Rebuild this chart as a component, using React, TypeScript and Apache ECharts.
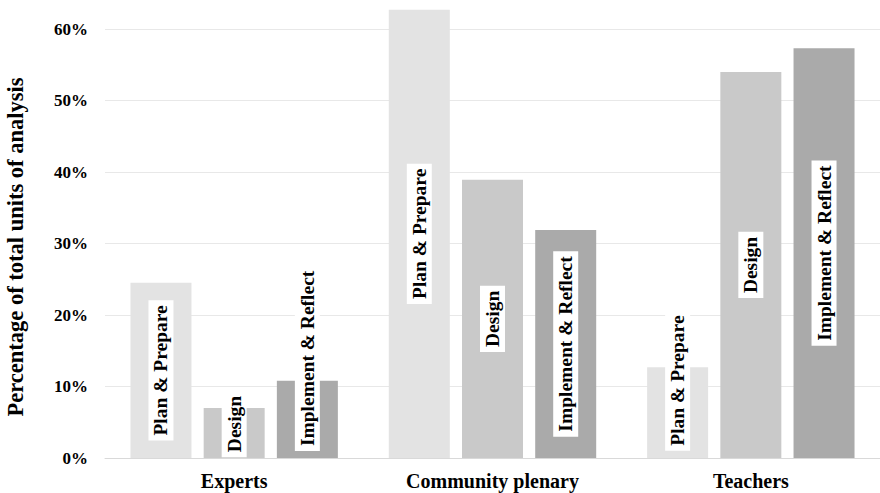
import React, { useEffect, useRef } from "react";
import * as echarts from "echarts";

const categories = ["Experts", "Community plenary", "Teachers"];
const seriesNames = ["Plan & Prepare", "Design", "Implement & Reflect"];
const planPrepare = [24.5, 62.7, 12.7];
const design = [7.0, 38.9, 54.0];
const implementReflect = [10.8, 31.9, 57.3];
const yTicks = [0, 10, 20, 30, 40, 50, 60];
const yAxisTitle = "Percentage of total units of analysis";

const FONT = "'Liberation Serif', 'Times New Roman', serif";

export default function App() {
  const ref = useRef<HTMLDivElement>(null);
  useEffect(() => {
    if (!ref.current) return;
    const chart = echarts.init(ref.current, undefined, { renderer: "svg" });
    const colors = ["#e3e3e3", "#c9c9c9", "#aaaaaa"];
    const values = [planPrepare, design, implementReflect];
    // per-item label shifts (upwards) for labels longer than their bar
    const shifts: number[][] = [
      [0, 0, 32],
      [9, 0, 0],
      [61, 0, 0],
    ];
    const series = seriesNames.map((name, si) => ({
      name,
      type: "bar",
      barWidth: 61,
      barGap: "20%",
      clip: false,
      itemStyle: { color: colors[si] },
      data: values[si].map((v, ci) => ({
        value: v,
        label: { offset: [shifts[si][ci], 0] },
      })),
      label: {
        show: true,
        position: "inside",
        rotate: 90,
        formatter: "{a}",
        fontFamily: FONT,
        fontWeight: "bold",
        fontSize: 19.5,
        color: "#000",
        backgroundColor: "#fff",
        padding: [3, 5, 2, 5],
      },
    }));
    chart.setOption({
      animation: false,
      grid: { left: 105, width: 777, top: 29, height: 429 },
      xAxis: {
        type: "category",
        data: categories,
        axisTick: { show: false },
        axisLine: { lineStyle: { color: "#d9d9d9", width: 1 } },
        axisLabel: {
          fontFamily: FONT,
          fontWeight: "bold",
          fontSize: 20,
          color: "#000",
          margin: 13,
        },
      },
      yAxis: {
        type: "value",
        min: yTicks[0],
        max: yTicks[yTicks.length - 1],
        interval: 10,
        axisLabel: {
          formatter: "{value}%",
          fontFamily: FONT,
          fontWeight: "bold",
          fontSize: 17,
          color: "#000",
          margin: 17,
        },
        splitLine: { lineStyle: { color: "#e8e8e8", width: 1 } },
        axisLine: { show: false },
        axisTick: { show: false },
      },
      graphic: [
        {
          type: "text",
          x: 15,
          y: 247,
          rotation: Math.PI / 2,
          style: {
            text: yAxisTitle,
            fontFamily: FONT,
            fontWeight: "bold",
            fontSize: 22.5,
            fill: "#000",
            align: "center",
            verticalAlign: "middle",
          },
        },
      ],
      series,
    });
    return () => chart.dispose();
  }, []);
  return (
    <div
      ref={ref}
      style={{ position: "fixed", left: 0, top: 0, width: 880, height: 493, background: "#fff" }}
    />
  );
}
